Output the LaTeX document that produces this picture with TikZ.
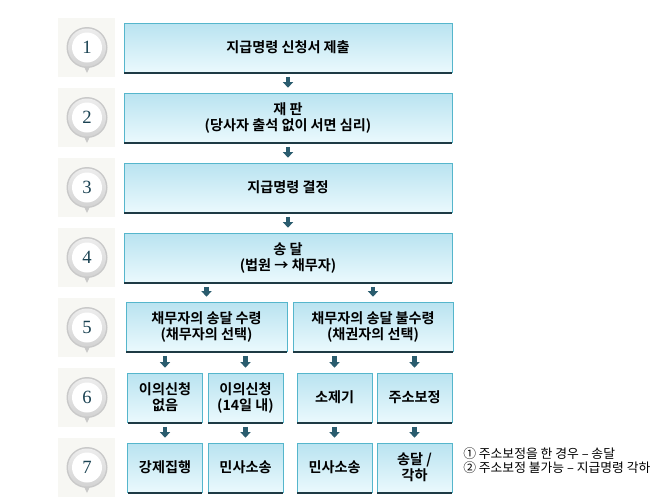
\documentclass[tikz,border=0pt]{standalone}
\usepackage{fontspec}
\setmainfont{Liberation Serif}
\newfontfamily\kr{Noto Sans CJK KR}[BoldFont={Noto Sans CJK KR Bold}]
\usetikzlibrary{arrows.meta,shadings}
\definecolor{boxtop}{HTML}{B9E3F0}
\definecolor{boxbot}{HTML}{EAF9FD}
\definecolor{boxline}{HTML}{55B6CC}
\definecolor{boxbase}{HTML}{1E3A44}
\definecolor{arrowc}{HTML}{2A5C6E}
\definecolor{badgebg}{HTML}{F7F7F3}
\definecolor{ringlt}{HTML}{EDEDED}
\definecolor{ringdk}{HTML}{C9C9C9}
\definecolor{numc}{HTML}{1A4252}
\tikzset{
  stepbox/.style={draw=boxline, line width=0.75pt, top color=boxtop, bottom color=boxbot,
    minimum height=36.75pt, inner sep=0pt, align=center,
    font=\kr\bfseries\fontsize{10.6}{12}\selectfont, text=black},
  flowarrow/.style={draw=arrowc, line width=3.2pt, -{Triangle[width=7.5pt,length=4.2pt]},
    shorten <=3.3pt, shorten >=3.6pt},
  badge/.style={circle, minimum size=22pt, inner sep=0pt, font=\fontsize{14}{14}\selectfont, text=numc}
}
\newcommand{\basebar}[1]{\draw[boxbase, line width=1.6pt] ([xshift=0.4pt,yshift=-0.6pt]#1.south west) -- ([xshift=-0.4pt,yshift=-0.6pt]#1.south east);}
\begin{document}
\begin{tikzpicture}[x=0.75pt,y=-0.75pt]
\useasboundingbox (0,0) rectangle (659,497);
\fill[white] (0,0) rectangle (659,497);
% badges
\foreach \i [evaluate=\i as \yy using 47.5+70*(\i-1)] in {1,...,7}{
  \fill[badgebg] (58,\yy-29.5) rectangle (115,\yy+29.5);
  \fill[ringdk] (83.5,\yy+18) -- (87,\yy+25.5) -- (90.5,\yy+18) -- cycle;
  \fill[ringdk] (87,\yy) circle (20.5);
  \shade[top color=ringlt, bottom color=ringdk!80] (87,\yy) circle (19);
  \fill[white] (87,\yy) circle (15);
  \node[badge] (n\i) at (87,\yy) {\i};
}
% row boxes
\node[stepbox, minimum width=246pt] (b1) at (288,47.5) {지급명령 신청서 제출};
\node[stepbox, minimum width=246pt] (b2) at (288,117.5) {재 판\\(당사자 출석 없이 서면 심리)};
\node[stepbox, minimum width=246pt] (b3) at (288,187.5) {지급명령 결정};
\node[stepbox, minimum width=246pt] (b4) at (288,257.5) {송 달\\(법원 → 채무자)};
\node[stepbox, minimum width=120.75pt] (b5a) at (206.5,326.5) {채무자의 송달 수령\\(채무자의 선택)};
\node[stepbox, minimum width=120pt] (b5b) at (373,326.5) {채무자의 송달 불수령\\(채권자의 선택)};
\node[stepbox, minimum width=56.25pt] (b6a) at (165,397.5) {이의신청\\없음};
\node[stepbox, minimum width=56.25pt] (b6b) at (245.5,397.5) {이의신청\\(14일 내)};
\node[stepbox, minimum width=56.25pt] (b6c) at (334.5,397.5) {소제기};
\node[stepbox, minimum width=56.25pt] (b6d) at (414.5,397.5) {주소보정};
\node[stepbox, minimum width=56.25pt] (b7a) at (165,467.5) {강제집행};
\node[stepbox, minimum width=56.25pt] (b7b) at (245.5,467.5) {민사소송};
\node[stepbox, minimum width=56.25pt] (b7c) at (334.5,467.5) {민사소송};
\node[stepbox, minimum width=56.25pt] (b7d) at (414.5,467.5) {송달 /\\각하};
\foreach \b in {b1,b2,b3,b4,b5a,b5b,b6a,b6b,b6c,b6d,b7a,b7b,b7c,b7d}{\basebar{\b}}
% arrows
\draw[flowarrow] (b1.south) -- (b2.north);
\draw[flowarrow] (b2.south) -- (b3.north);
\draw[flowarrow] (b3.south) -- (b4.north);
\draw[flowarrow] (b5a.north |- b4.south) -- (b5a.north);
\draw[flowarrow] (b5b.north |- b4.south) -- (b5b.north);
\draw[flowarrow] (b6a.north |- b5a.south) -- (b6a.north);
\draw[flowarrow] (b6b.north |- b5a.south) -- (b6b.north);
\draw[flowarrow] (b6c.north |- b5b.south) -- (b6c.north);
\draw[flowarrow] (b6d.north |- b5b.south) -- (b6d.north);
\draw[flowarrow] (b6a.south) -- (b7a.north);
\draw[flowarrow] (b6b.south) -- (b7b.north);
\draw[flowarrow] (b6c.south) -- (b7c.north);
\draw[flowarrow] (b6d.south) -- (b7d.north);
% legend
\node[anchor=west, align=left, inner sep=0pt, font=\kr\fontsize{9.6}{11}\selectfont] (legend) at (463,460.5)
  {① 주소보정을 한 경우 – 송달\\② 주소보정 불가능 – 지급명령 각하};
\end{tikzpicture}
\end{document}
